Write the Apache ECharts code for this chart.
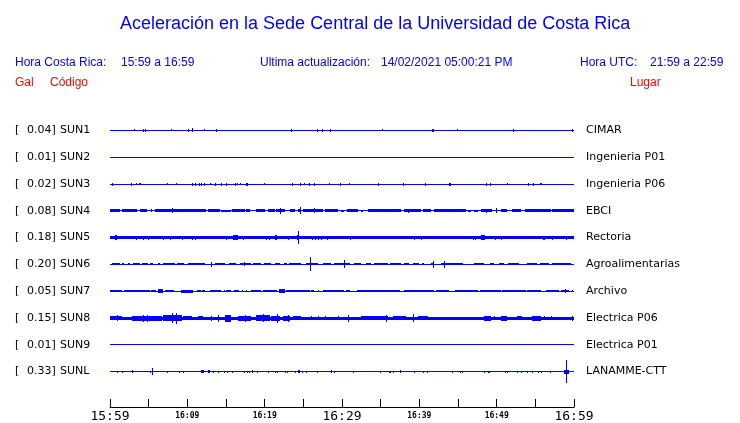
<!DOCTYPE html>
<html><head><meta charset="utf-8">
<script src="https://cdn.jsdelivr.net/npm/echarts@6/dist/echarts.min.js"></script>
<style>html,body{margin:0;padding:0;background:#fff}#c{width:740px;height:423px}</style>
</head><body><div id="c"></div>
<script>
// ---- data ----
const stations = ['SUN1','SUN2','SUN3','SUN4','SUN5','SUN6','SUN7','SUN8','SUN9','SUNL'];
const places = ['CIMAR','Ingenieria P01','Ingenieria P06','EBCI','Rectoria','Agroalimentarias','Archivo','Electrica P06','Electrica P01','LANAMME-CTT'];
const peakGal = [0.04,0.01,0.02,0.08,0.18,0.20,0.05,0.15,0.01,0.33];
const tickMinutes = [0,10,20,30,40,50,60];
const tickLabels = ['15:59','16:09','16:19','16:29','16:39','16:49','16:59'];
const majorTicks = ['15:59','16:29','16:59'];
// noise floor (half amplitude, trace units; row spacing = 27 units)
const noiseFloor = [0.5,0.5,0.5,0.5,1.5,0.5,0.5,1.5,0.5,0.5];
// bursts: [startMinute, endMinute, halfAmplitude]
const sun1 = [[3.14,3.14,0.8],[4.30,4.30,1.5],[4.52,4.52,1.5],[7.9,8.05,1.2],[10.11,10.11,1.5],[10.62,10.62,2.2],[12.17,12.17,0.9],[13.72,13.72,1.5],[23.40,23.40,1.5],[26.75,26.75,1.5],[27.40,27.40,1.5],[28.43,28.43,1.5],[35.14,35.14,0.9],[41.59,41.59,1.5],[41.81,41.81,1.5],[44.82,44.82,0.9],[52.05,52.3,1.5],[59.70,59.70,1.5]];
const sun2 = [];
const sun3 = [[0.30,0.30,1.3],[2.75,2.75,1.3],[3.31,3.31,0.8],[3.75,3.95,0.9],[7.40,7.40,1.0],[8.56,8.56,0.8],[10.62,10.62,1.3],[10.97,10.97,1.3],[11.48,11.48,1.3],[11.83,11.83,1.3],[12.17,12.17,1.3],[12.99,12.99,0.8],[13.6,13.75,1.3],[14.41,14.41,1.3],[14.97,14.97,1.3],[16.13,16.13,1.3],[16.47,16.47,0.8],[16.86,16.86,0.8],[17.65,17.85,1.3],[19.91,19.91,0.8],[23.53,23.53,1.3],[24.56,24.56,1.3],[25.08,25.08,0.9],[25.68,25.68,1.3],[26.37,26.37,1.3],[28.30,28.30,0.8],[29.72,29.72,1.3],[30.88,30.88,0.8],[34.62,34.62,1.3],[37.85,37.85,1.3],[40.69,40.69,1.3],[43.9,44.05,1.3],[48.56,48.56,1.3],[49.08,49.08,1.3],[51.40,51.40,0.8],[54.11,54.11,1.3],[54.75,54.75,1.3],[55.6,55.9,0.8]];
const sun4 = [[0,1.29,1.4],[1.51,3.44,1.4],[3.87,4.73,1.4],[5.29,5.29,1.4],[5.81,12.47,1.4],[7.96,7.96,2.5],[12.69,14.19,1.4],[14.41,15.70,0.9],[15.83,17.42,1.4],[17.63,18.06,1.4],[18.84,20.0,1.4],[20.43,21.29,1.4],[21.51,22.58,1.4],[22.02,22.02,3.0],[23.23,23.87,1.4],[24.30,24.73,1.6],[24.56,24.56,3.5],[24.95,27.53,1.4],[26.37,26.37,2.5],[27.74,29.46,1.4],[29.89,30.32,1.2],[30.62,32.04,1.4],[32.47,32.69,1.2],[33.33,37.63,1.4],[38.06,40.22,1.4],[38.58,38.58,2.2],[40.43,41.51,1.4],[41.94,46.02,1.4],[46.24,46.67,1.2],[47.10,47.53,1.2],[47.96,49.46,1.4],[48.6,48.6,2.2],[49.89,49.89,2.5],[50.54,51.40,1.4],[52.04,53.12,1.4],[53.63,56.99,1.4],[57.20,60,1.4]];
const sun5 = [[0.6,0.85,2.3],[3.35,3.35,2.2],[4.30,4.30,2.2],[4.95,4.95,2.2],[6.88,6.88,2.2],[7.74,7.74,2.2],[9.25,9.5,2.2],[10.62,10.62,2.2],[11.05,11.05,2.2],[15.05,15.05,2.2],[15.95,16.5,2.4],[17.20,17.20,2.2],[20.22,20.22,2.2],[20.56,20.56,2.2],[21.4,21.65,2.4],[23.01,23.01,2.2],[24.34,24.34,6.5],[24.2,24.5,2.3],[26.11,26.11,2.2],[26.54,26.54,2.2],[26.88,26.88,2.2],[27.23,27.23,2.2],[28.04,28.04,2.2],[30.97,30.97,2.2],[39.27,39.27,2.2],[40.22,40.22,2.2],[46.88,46.88,2.2],[47.18,47.18,2.2],[47.95,48.45,2.5],[49.76,49.76,2.2],[50.54,50.54,2.2],[56.05,56.2,2.2],[57.12,57.12,2.2],[58.92,58.92,2.2]];
const sun6 = [[0.30,1.29,1.0],[1.59,1.85,1.0],[2.37,2.62,1.0],[3.01,3.87,1.0],[4.17,4.86,1.0],[5.16,5.59,1.0],[6.15,6.45,1.0],[6.88,8.39,1.0],[8.60,9.59,1.0],[10.11,12.26,1.0],[13.12,13.12,2.5],[13.55,14.84,1.0],[15.35,16.34,1.0],[16.77,18.28,1.0],[17.33,17.33,2.0],[18.49,19.57,1.0],[19.87,20.86,1.0],[21.29,21.94,1.0],[22.45,22.92,1.0],[23.14,24.73,1.0],[25.38,26.88,1.2],[25.81,25.81,7.3],[27.53,28.60,1.0],[29.03,30.97,1.0],[30.24,30.24,4.0],[31.61,32.47,1.0],[33.12,33.76,1.0],[34.19,35.91,1.0],[36.26,37.63,1.0],[37.98,38.71,1.0],[39.14,40.0,1.0],[40.30,40.65,1.0],[41.51,41.94,1.2],[41.72,41.72,3.5],[42.80,45.59,1.0],[43.23,43.23,3.5],[47.10,48.39,1.0],[49.16,49.68,1.0],[50.24,50.97,1.0],[51.53,52.90,1.0],[53.89,55.27,1.0],[55.61,56.77,1.0],[57.20,59.57,1.0]];
const sun7 = [[0,1.51,1.2],[1.85,5.16,1.2],[5.29,5.89,1.2],[6.24,6.88,1.8],[7.10,8.30,1.2],[9.16,10.75,1.5],[11.31,11.74,1.2],[11.91,12.34,1.2],[12.90,14.41,1.2],[14.71,14.71,1.2],[15.05,15.61,1.2],[16.0,16.65,1.2],[17.03,17.03,1.2],[17.55,17.55,1.2],[18.28,19.57,1.2],[19.78,21.63,1.2],[21.81,22.58,1.8],[22.80,25.81,1.2],[25.94,26.37,1.2],[26.88,26.88,1.2],[27.53,30.32,1.2],[30.54,30.97,1.2],[31.96,37.55,1.2],[38.06,41.94,1.2],[42.15,43.87,1.2],[44.60,47.53,1.2],[47.87,50.54,1.2],[50.75,53.76,1.2],[53.98,55.78,1.2],[56.34,58.06,1.2],[58.37,59.35,1.2],[58.8,58.8,1.8],[59.78,59.78,1.2]];
const sun8 = [[0,1.51,2.2],[0.86,0.86,3.0],[2.80,6.67,2.5],[4.30,4.30,3.3],[4.73,4.73,3.3],[6.88,9.25,3.0],[7.96,7.96,5.0],[8.52,8.52,5.5],[9.46,10.54,2.2],[11.40,12.04,2.2],[13.12,13.12,2.5],[13.98,13.98,3.3],[14.84,15.70,3.5],[16.56,18.28,2.5],[17.51,17.51,3.7],[18.92,20.65,3.0],[19.78,19.78,4.0],[20.86,21.94,2.5],[21.63,21.63,4.5],[22.37,23.23,2.5],[23.01,23.01,3.7],[23.66,24.73,2.2],[26.02,26.02,2.2],[26.88,26.88,2.2],[27.74,27.74,2.0],[29.46,29.46,2.0],[30.75,30.75,3.5],[32.47,35.91,2.2],[35.70,35.70,3.5],[36.56,38.28,2.2],[39.14,39.14,4.0],[39.78,41.08,2.0],[48.39,49.25,2.5],[49.68,49.68,2.0],[50.54,51.40,2.5],[52.69,53.33,2.2],[54.62,55.70,2.5],[56.13,56.13,2.0],[56.99,56.99,2.0],[59.78,59.78,2.5]];
const sun9 = [];
const sunl = [[0.95,0.95,0.8],[1.59,1.59,0.8],[2.80,2.80,1.3],[5.16,5.16,0.8],[5.46,5.46,3.3],[7.31,7.31,0.8],[8.90,8.90,0.8],[9.46,9.46,0.8],[11.83,12.17,1.5],[12.7,12.95,1.5],[13.38,13.38,0.8],[13.98,13.98,0.8],[14.75,14.75,0.8],[15.14,15.14,1.0],[15.78,15.78,0.8],[17.33,17.33,1.2],[17.72,17.72,1.2],[17.98,17.98,1.2],[18.32,18.32,1.5],[19.05,19.05,1.0],[20.43,20.43,1.0],[21.38,21.38,0.8],[21.59,21.59,0.8],[22.58,22.58,1.0],[22.88,22.88,1.0],[23.87,23.87,0.8],[24.3,24.6,1.5],[24.86,24.86,1.2],[25.38,25.38,1.2],[26.75,26.75,1.0],[28.52,28.52,1.3],[29.03,29.03,1.0],[31.40,31.40,0.8],[34.97,34.97,0.8],[36.04,36.04,1.0],[36.26,36.26,1.0],[36.56,36.56,0.8],[37.51,37.51,1.3],[39.27,39.27,1.0],[40.43,40.43,1.0],[40.95,40.95,1.0],[44.22,44.22,1.0],[45.25,45.25,1.0],[45.55,45.55,1.0],[48.30,48.30,1.0],[48.82,48.82,0.8],[49.03,49.03,0.8],[51.10,51.10,0.8],[51.31,51.31,0.8],[52.60,52.60,0.8],[53.20,53.20,1.0],[53.89,53.89,1.0],[54.62,54.62,1.0],[55.40,55.40,1.0],[55.78,55.78,1.0],[56.86,56.86,0.8],[58.71,59.35,2.0],[59.01,59.01,11.7]];
const bursts = [sun1,sun2,sun3,sun4,sun5,sun6,sun7,sun8,sun9,sunl];
const headerTexts = ['Hora Costa Rica:','15:59 a 16:59','Ultima actualización:','14/02/2021 05:00:21 PM','Hora UTC:','21:59 a 22:59'];
const columnHeads = ['Gal','Código','Lugar'];
const chartTitle = 'Aceleración en la Sede Central de la Universidad de Costa Rica';

// ---- build ----
const ROW_UNITS = 27;
const BLUE = '#0000ff';
const traceData = [];
stations.forEach((s, i) => {
  traceData.push([i, 0, 60, noiseFloor[i]]);
  bursts[i].forEach(b => traceData.push([i, b[0], b[1], b[2]]));
});
const labelFor = {};
tickMinutes.forEach((m, k) => labelFor[m] = tickLabels[k]);

const hdrStyle = {fontFamily:'Liberation Sans', fontSize:12, fontWeight:'normal', color:BLUE};
const redStyle = {fontFamily:'Liberation Sans', fontSize:12, fontWeight:'normal', color:'#ff0000'};
const hdrLeft = [15,121,260,381,580,650];
const colLeft = [15,50,630];

const titles = [{text:chartTitle, left:120, top:15, padding:0,
  textStyle:{fontFamily:'Liberation Sans', fontSize:18, fontWeight:'normal', color:BLUE}}];
headerTexts.forEach((t,k) => titles.push({text:t, left:hdrLeft[k], top:57, padding:0, textStyle:hdrStyle}));
columnHeads.forEach((t,k) => titles.push({text:t, left:colLeft[k], top:77, padding:0, textStyle:redStyle}));

const chart = echarts.init(document.getElementById('c'), null, {renderer:'canvas'});
chart.setOption({
  animation:false,
  backgroundColor:'#ffffff',
  title:titles,
  grid:{left:110, right:166, top:117, height:270},
  xAxis:{type:'value', min:0, max:60, interval:5, position:'bottom', offset:22,
    splitLine:{show:false},
    axisLine:{show:true, onZero:false, lineStyle:{color:'#000', width:1}},
    axisTick:{show:true, inside:true, length:8, lineStyle:{color:'#000', width:1}},
    axisLabel:{show:true, margin:3, verticalAlign:'top', showMinLabel:true, showMaxLabel:true,
      formatter:v => {
        const t = labelFor[v];
        if (!t) return '';
        return majorTicks.includes(t) ? '{b|' + t + '}' : '{s|' + t + '}';
      },
      rich:{
        b:{fontFamily:'DejaVu Sans Mono', fontSize:13, color:'#000', verticalAlign:'top'},
        s:{fontFamily:'DejaVu Sans Mono', fontSize:8, fontWeight:'bold', color:'#000', verticalAlign:'top', padding:[2,0,0,0]}
      }}
  },
  yAxis:[
    {type:'category', data:stations, inverse:true, position:'left',
      axisLine:{show:false}, axisTick:{show:false}, splitLine:{show:false},
      axisLabel:{align:'left', margin:95,
        formatter:(v, idx) => '{a|[}{v|' + peakGal[idx].toFixed(2) + ']}{s|' + v + '}',
        rich:{
          a:{width:12, fontFamily:'DejaVu Sans', fontSize:11, color:'#000'},
          v:{width:29, align:'right', fontFamily:'DejaVu Sans', fontSize:11, color:'#000'},
          s:{padding:[0,0,0,4], fontFamily:'DejaVu Sans', fontSize:11, color:'#000'}
        }}},
    {type:'category', data:places, inverse:true, position:'right',
      axisLine:{show:false}, axisTick:{show:false}, splitLine:{show:false},
      axisLabel:{align:'left', margin:12, fontFamily:'DejaVu Sans', fontSize:11, color:'#000'}}
  ],
  series:[{
    type:'custom', coordinateSystem:'cartesian2d', xAxisIndex:0, yAxisIndex:0, clip:false,
    dimensions:['row','t0','t1','amp'], encode:{x:[1,2], y:0},
    data:traceData,
    renderItem:(params, api) => {
      const row = api.value(0);
      const p0 = api.coord([api.value(1), row]);
      const p1 = api.coord([api.value(2), row]);
      const band = api.size([0,1])[1];
      const h = Math.max(1, Math.round(2 * api.value(3) * band / ROW_UNITS));
      const x0 = Math.round(p0[0]);
      const w = Math.max(1, Math.round(p1[0]) - x0);
      const y0 = Math.round(p0[1] - h / 2);
      return {type:'rect', shape:{x:x0, y:y0, width:w, height:h},
        style:{fill:BLUE}};
    }
  }]
});
</script></body></html>
